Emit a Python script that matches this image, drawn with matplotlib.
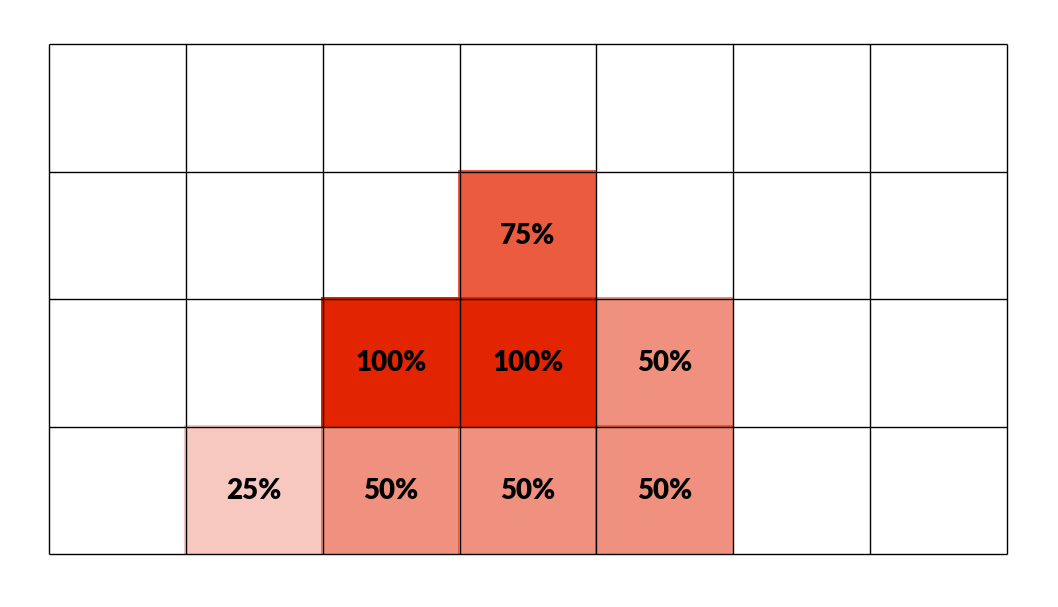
import numpy as np
import matplotlib
matplotlib.use("Agg")
import matplotlib.pyplot as plt
from matplotlib.colors import to_rgba

n_cols = 7
n_rows = 4
# values per row (top to bottom), None = empty cell
row0 = [None, None, None, None, None, None, None]
row1 = [None, None, None, 75, None, None, None]
row2 = [None, None, 100, 100, 50, None, None]
row3 = [None, 25, 50, 50, 50, None, None]
rows = [row0, row1, row2, row3]

base = "#E32400"

W, H = 1058, 607
fig = plt.figure(figsize=(W/100, H/100), dpi=100)
ax = fig.add_axes([49/W, (H-554)/H, (1007-49)/W, (554-44)/H])
ax.set_xlim(0, n_cols)
ax.set_ylim(n_rows, 0)
ax.axis("off")

for r, row in enumerate(rows):
    for c, v in enumerate(row):
        if v is None:
            continue
        color = to_rgba(base, v/100)
        ax.add_patch(plt.Rectangle((c-0.012, r-0.015), 1.01, 1.03,
                                   facecolor=color, edgecolor="none", zorder=1))
        ax.text(c+0.5, r+0.505, f"{v}%", ha="center", va="center",
                fontsize=20, fontweight="heavy", family="Lato", color="black", zorder=3)

for x in range(n_cols+1):
    ax.plot([x, x], [0, n_rows], color="black", lw=1.0, zorder=2,
            solid_capstyle="butt", clip_on=False)
for y in range(n_rows+1):
    ax.plot([0, n_cols], [y, y], color="black", lw=1.0, zorder=2,
            solid_capstyle="butt", clip_on=False)

fig.savefig("out.png", dpi=100, facecolor="white")
